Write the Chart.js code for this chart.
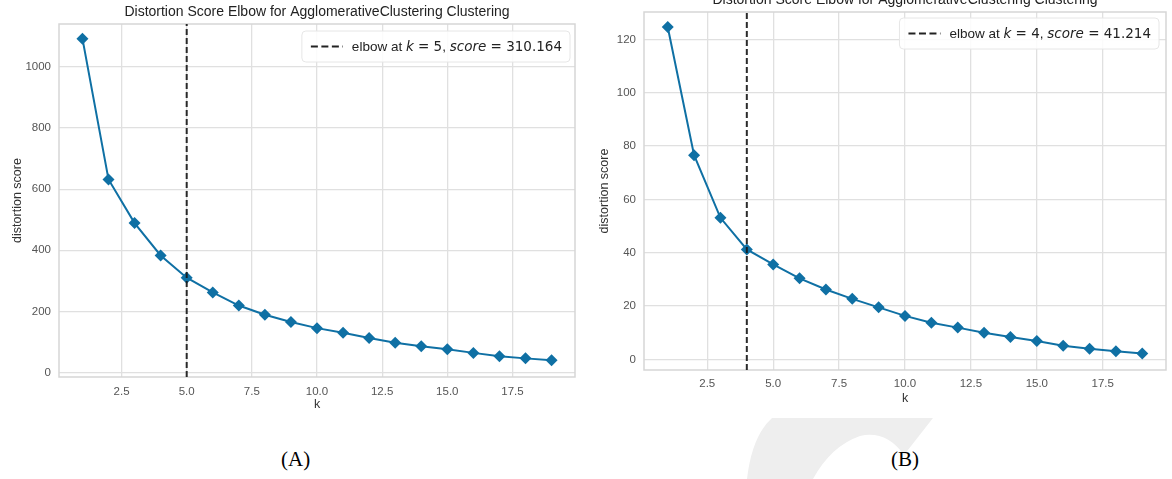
<!DOCTYPE html>
<html>
<head>
<meta charset="utf-8">
<script src="https://cdn.jsdelivr.net/npm/chart.js@4.4.0/dist/chart.umd.min.js"></script>
<style>
    html, body { margin: 0; padding: 0; background: #fff; width: 1172px; height: 479px; overflow: hidden; }
    body { position: relative; }
    .wrap { position: absolute; }
    #wrapA { left: 0; top: 0; width: 590px; height: 420px; }
    #wrapB { left: 590px; top: -12px; width: 582px; height: 420px; }
    .cap { position: absolute; top: 447px; font-family: "Liberation Serif", "Times New Roman", serif; font-size: 21px; color: #000; }
    #mark { position: absolute; left: 0; top: 0; }
</style>
</head>
<body>
<svg id="mark" width="1172" height="479">
    <path d="M747,479 Q752,436 772,418 L933,418 L904,455 Q886,430 860,436 Q831,446 813,479 Z" fill="#eeeeee"/>
</svg>
<div class="wrap" id="wrapA"><canvas id="chartA"></canvas></div>
<div class="wrap" id="wrapB"><canvas id="chartB"></canvas></div>
<div class="cap" style="left:281px">(A)</div>
<div class="cap" style="left:891px">(B)</div>

<script>
(function () {
    "use strict";

    // data
    const kValues = [1, 2, 3, 4, 5, 6, 7, 8, 9, 10, 11, 12, 13, 14, 15, 16, 17, 18, 19];
    const scoresA = [1093, 632, 489, 383, 310.164, 262, 219, 189, 165, 145, 130, 113, 97, 86, 76, 64, 53, 46, 40];
    const scoresB = [124.7, 76.6, 53.1, 41.214, 35.6, 30.4, 26.2, 22.7, 19.5, 16.3, 13.7, 11.9, 10.0, 8.4, 6.9, 5.1, 4.0, 3.0, 2.2];
    const elbowA = { k: 5, score: 310.164 };
    const elbowB = { k: 4, score: 41.214 };
    const xTicks = [2.5, 5, 7.5, 10, 12.5, 15, 17.5];
    const yTicksA = [0, 200, 400, 600, 800, 1000];
    const yTicksB = [0, 20, 40, 60, 80, 100, 120];
    const titleText = 'Distortion Score Elbow for AgglomerativeClustering Clustering';

    const lineColor = '#0f70a4';
    const gridColor = '#e0e0e0';
    const sans = '"Liberation Sans", Arial, sans-serif';

    // frame round the plot area (matplotlib spines) + title centred on the axes
    const frame = {
        id: 'frame',
        beforeDatasetsDraw(chart) {
            const a = chart.chartArea, ctx = chart.ctx;
            ctx.save();
            ctx.strokeStyle = '#d6d6d6';
            ctx.lineWidth = 1.5;
            ctx.strokeRect(a.left, a.top, a.right - a.left, a.bottom - a.top);
            ctx.restore();
        },
        afterDraw(chart) {
            const a = chart.chartArea, ctx = chart.ctx;
            ctx.save();
            ctx.font = '14px ' + sans;
            ctx.fillStyle = '#222';
            ctx.textAlign = 'center';
            ctx.textBaseline = 'middle';
            ctx.fillText(titleText, (a.left + a.right) / 2, a.top - 12);
            ctx.restore();
        }
    };

    // legend with mathtext-like italic runs
    const elbowLegend = {
        id: 'elbowLegend',
        afterDraw(chart, args, o) {
            const ctx = chart.ctx, a = chart.chartArea;
            const normal = '13.5px ' + sans;
            const mathIt = 'italic 13.5px "DejaVu Sans"';
            const mathRm = '13.5px "DejaVu Sans"';
            const runs = [
                ['elbow at ', normal], ['k', mathIt], [' = ' + o.k, mathRm],
                [', ', normal], ['score', mathIt], [' = ' + o.score.toFixed(3), mathRm]
            ];
            ctx.save();
            let tw = 0;
            runs.forEach(r => { ctx.font = r[1]; r.w = ctx.measureText(r[0]).width; tw += r.w; });
            const h = 31, padL = 9, handle = 32, gap = 9, padR = 8;
            const w = padL + handle + gap + tw + padR;
            const x = a.right - o.right - w, y = a.top + o.top;
            ctx.beginPath();
            ctx.roundRect(x, y, w, h, 4);
            ctx.fillStyle = 'rgba(255,255,255,0.85)';
            ctx.fill();
            ctx.strokeStyle = '#e6e6e6';
            ctx.lineWidth = 1;
            ctx.stroke();
            const cy = y + h / 2;
            ctx.beginPath();
            ctx.setLineDash([7, 3.5]);
            ctx.strokeStyle = '#222';
            ctx.lineWidth = 2;
            ctx.moveTo(x + padL, cy);
            ctx.lineTo(x + padL + handle, cy);
            ctx.stroke();
            ctx.setLineDash([]);
            ctx.fillStyle = '#222';
            ctx.textBaseline = 'middle';
            let tx = x + padL + handle + gap;
            runs.forEach(r => { ctx.font = r[1]; ctx.fillText(r[0], tx, cy + 1); tx += r.w; });
            ctx.restore();
        }
    };

    function makeChart(id, scores, elbow, yTicks, yMin, yMax, dims) {
        return new Chart(document.getElementById(id), {
            type: 'line',
            data: {
                datasets: [
                    {
                        data: [{ x: elbow.k, y: yMin }, { x: elbow.k, y: yMax }],
                        borderColor: 'rgba(25,25,25,0.92)',
                        borderWidth: 2,
                        borderDash: [6, 3],
                        pointRadius: 0
                    },
                    {
                        data: kValues.map((k, i) => ({ x: k, y: scores[i] })),
                        borderColor: lineColor,
                        backgroundColor: lineColor,
                        borderWidth: 2,
                        pointStyle: 'rectRot',
                        pointRadius: 6,
                        pointBorderWidth: 0,
                        tension: 0
                    }
                ]
            },
            options: {
                responsive: true,
                maintainAspectRatio: false,
                animation: false,
                layout: { padding: { left: 0, right: dims.padRight, top: 24, bottom: 0 } },
                plugins: {
                    legend: { display: false },
                    tooltip: { enabled: false },
                    title: { display: false },
                    elbowLegend: { k: elbow.k, score: elbow.score, top: dims.legTop, right: dims.legRight }
                },
                scales: {
                    x: {
                        type: 'linear',
                        min: 0.1,
                        max: 19.9,
                        afterBuildTicks: s => { s.ticks = xTicks.map(v => ({ value: v })); },
                        afterFit: s => { s.height = dims.xHeight; },
                        grid: { color: gridColor, lineWidth: 1.3, drawTicks: false },
                        border: { display: false },
                        ticks: {
                            autoSkip: false, maxRotation: 0, padding: dims.xTickPad,
                            color: '#555', font: { family: sans, size: 11.5 },
                            callback: v => Number(v).toFixed(1)
                        },
                        title: {
                            display: true, text: 'k', color: '#333',
                            font: { family: sans, size: 12.5 },
                            padding: { top: 0, bottom: dims.xTitlePad }
                        }
                    },
                    y: {
                        type: 'linear',
                        min: yMin,
                        max: yMax,
                        afterBuildTicks: s => { s.ticks = yTicks.map(v => ({ value: v })); },
                        afterFit: s => { s.width = dims.yWidth; },
                        grid: { color: gridColor, lineWidth: 1.3, drawTicks: false },
                        border: { display: false },
                        ticks: {
                            padding: 8, color: '#555', font: { family: sans, size: 11.5 },
                            callback: v => String(v)
                        },
                        title: {
                            display: true, text: 'distortion score', color: '#333',
                            font: { family: sans, size: 12.5 },
                            padding: { top: dims.yTitlePad, bottom: 0 }
                        }
                    }
                }
            },
            plugins: [frame, elbowLegend]
        });
    }

    makeChart('chartA', scoresA, elbowA, yTicksA, -15, 1141,
        { padRight: 15, xHeight: 43, yWidth: 59, xTickPad: 8, xTitlePad: 8, yTitlePad: 10, legTop: 7, legRight: 5 });
    makeChart('chartB', scoresB, elbowB, yTicksB, -4.0, 130.3,
        { padRight: 5, xHeight: 38, yWidth: 54, xTickPad: 7, xTitlePad: 2, yTitlePad: 7, legTop: 6, legRight: 7 });
})();
</script>
</body>
</html>
